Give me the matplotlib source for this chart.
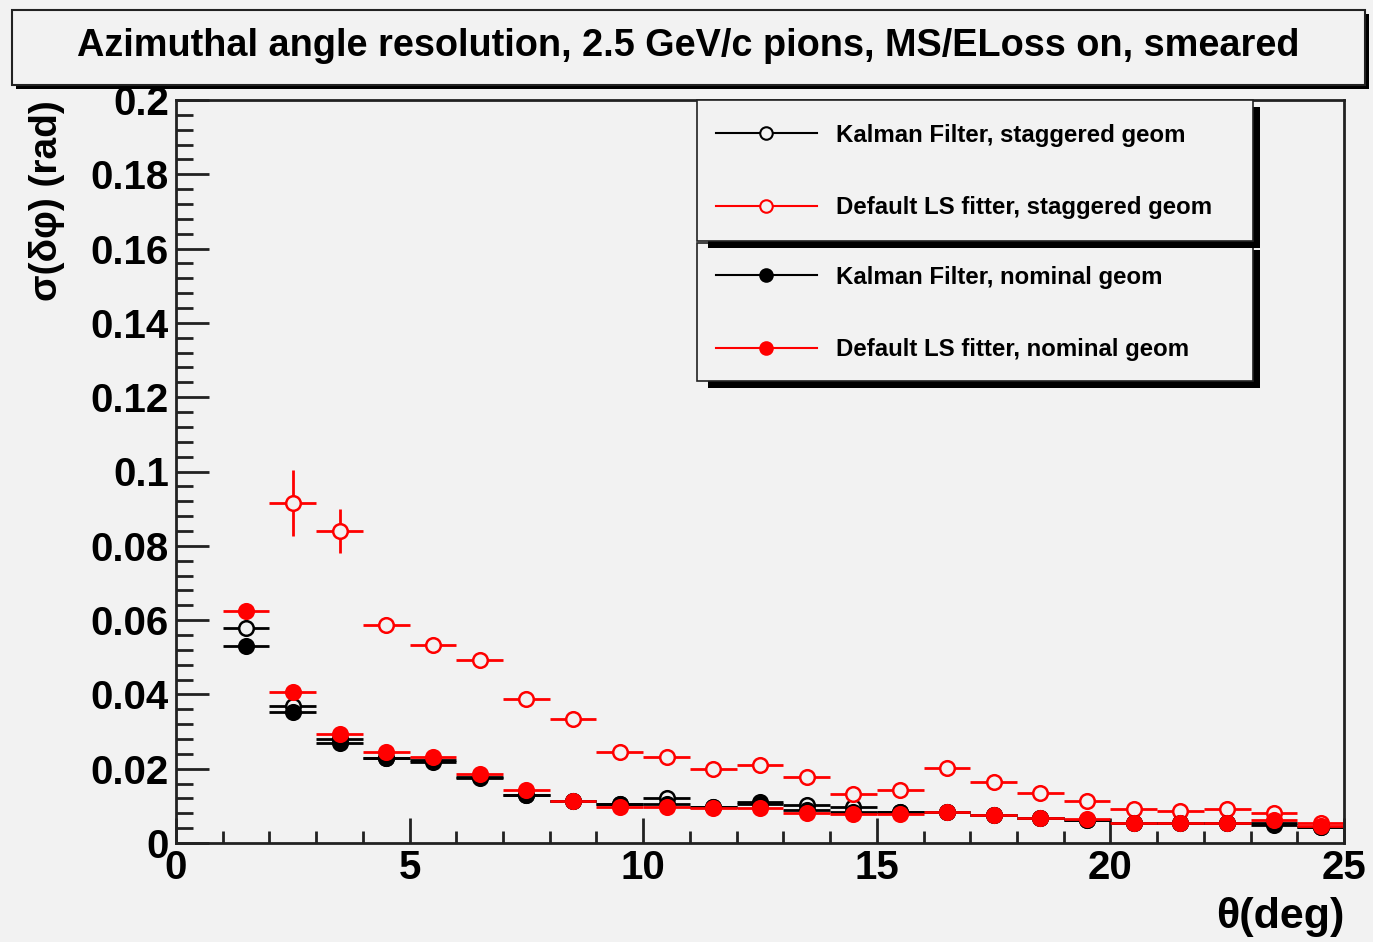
import numpy as np
import matplotlib.pyplot as plt
from matplotlib.patches import Rectangle
from matplotlib.lines import Line2D
from matplotlib.ticker import MultipleLocator

plt.rcParams['font.family'] = ['Liberation Sans', 'DejaVu Sans']
plt.rcParams['font.weight'] = 'bold'

# bin centres (deg), bin width 1
theta = np.arange(1.5, 25, 1.0)

kf_stag = [0.0579, 0.0370, 0.0280, 0.0230, 0.0218, 0.0178, 0.0130, 0.0114,
           0.0105, 0.0120, 0.0097, 0.0110, 0.0102, 0.0097, 0.0084, 0.0084,
           0.0075, 0.0066, 0.0062, 0.0053, 0.0053, 0.0053, 0.0048, 0.0042]
ls_stag = [np.nan, 0.0915, 0.0840, 0.0587, 0.0533, 0.0493, 0.0388, 0.0334,
           0.0246, 0.0232, 0.0198, 0.0210, 0.0177, 0.0131, 0.0144, 0.0203,
           0.0165, 0.0134, 0.0113, 0.0092, 0.0087, 0.0092, 0.0081, 0.0053]
kf_nom = [0.0530, 0.0353, 0.0268, 0.0230, 0.0223, 0.0174, 0.0129, 0.0114,
          0.0105, 0.0105, 0.0097, 0.0105, 0.0089, 0.0084, 0.0084, 0.0084,
          0.0075, 0.0066, 0.0062, 0.0053, 0.0053, 0.0053, 0.0053, 0.0042]
ls_nom = [0.0624, 0.0406, 0.0293, 0.0246, 0.0232, 0.0186, 0.0144, 0.0114,
          0.0097, 0.0097, 0.0093, 0.0093, 0.0080, 0.0079, 0.0079, 0.0084,
          0.0075, 0.0066, 0.0065, 0.0053, 0.0053, 0.0053, 0.0062, 0.0046]

ls_stag_err = [0, 0.0088, 0.0060, 0.0010, 0.0010, 0.0010, 0.0008, 0.0008,
               0.0006, 0.0006, 0.0006, 0.0006, 0.0005, 0.0005, 0.0005, 0.0005,
               0.0005, 0.0004, 0.0004, 0.0004, 0.0004, 0.0004, 0.0004, 0.0003]
ls_nom_err = [0.0020] + [0.0006] * 23
kf_err = [0.0010] + [0.0004] * 23

labels = ["Kalman Filter, staggered geom",
          "Default LS fitter, staggered geom",
          "Kalman Filter, nominal geom",
          "Default LS fitter, nominal geom"]

bg = '#f2f2f2'
W, H = 1373, 942
fig = plt.figure(figsize=(W / 100, H / 100), dpi=100, facecolor=bg)
ax = fig.add_axes([176 / W, 1 - 843 / H, (1344 - 176) / W, (843 - 100) / H])
ax.set_facecolor(bg)

series = [
    (kf_stag, kf_err, 'black', bg),
    (ls_stag, ls_stag_err, 'red', bg),
    (kf_nom, kf_err, 'black', 'black'),
    (ls_nom, ls_nom_err, 'red', 'red'),
]
for vals, err, col, fc in series:
    ax.errorbar(theta, vals, xerr=0.5, yerr=err, fmt='o', color=col,
                mec=col, mfc=fc, ms=10.5, mew=1.8, elinewidth=2, capsize=0)

ax.set_xlim(0, 25)
ax.set_ylim(0, 0.2)
ax.xaxis.set_major_locator(MultipleLocator(5))
ax.xaxis.set_minor_locator(MultipleLocator(1))
ax.yaxis.set_minor_locator(MultipleLocator(0.004))
ax.set_yticks(np.arange(0, 0.201, 0.02))
ax.set_yticklabels(['0', '0.02', '0.04', '0.06', '0.08', '0.1', '0.12',
                    '0.14', '0.16', '0.18', '0.2'])
ax.tick_params(which='both', direction='in', top=False, right=False,
               width=2, color='#222222', labelsize=29)
ax.tick_params(which='major', axis='y', length=24, pad=5)
ax.tick_params(which='minor', axis='y', length=12)
ax.tick_params(which='major', axis='x', length=18, pad=4)
ax.tick_params(which='minor', axis='x', length=9)
for s in ax.spines.values():
    s.set_linewidth(2)
    s.set_color('#222222')

fig.text(1345 / W, 1 - 917 / H, 'θ(deg)', ha='right', va='center', fontsize=31)
fig.text(47 / W, 1 - 100 / H, 'σ(δφ) (rad)', ha='center', va='top',
         rotation=90, fontsize=28)

# title box with shadow
fig.add_artist(Rectangle((16 / W, 1 - 89 / H), (1365 - 12) / W, 75 / H,
                         transform=fig.transFigure, fc='black', ec='none', zorder=1))
fig.add_artist(Rectangle((12 / W, 1 - 85 / H), (1365 - 12) / W, 75 / H,
                         transform=fig.transFigure, fc=bg, ec='#222222', lw=1.5, zorder=2))
fig.text((12 + 1365) / 2 / W, 1 - 46 / H,
         'Azimuthal angle resolution, 2.5 GeV/c pions, MS/ELoss on, smeared',
         ha='center', va='center', fontsize=27.3, zorder=3)

# legend boxes with shadows (lower box first, upper box's shadow lies over it)
z = 4
for top, bot in [(243, 381), (100, 241)]:
    fig.add_artist(Rectangle((708 / W, 1 - (bot + 7) / H), (1260 - 708) / W, (bot - top) / H,
                             transform=fig.transFigure, fc='black', ec='none', zorder=z))
    fig.add_artist(Rectangle((697 / W, 1 - bot / H), (1253 - 697) / W, (bot - top) / H,
                             transform=fig.transFigure, fc=bg, ec='#222222', lw=1.2, zorder=z + 1))
    z += 2

handles = []
for vals, err, col, fc in series:
    handles.append(Line2D([], [], color=col, lw=1.5, marker='o', ms=9,
                          mec=col, mfc=fc, mew=1.5))

for i, yc in enumerate([171.5, 313.5]):
    leg = fig.legend(handles[2 * i:2 * i + 2], labels[2 * i:2 * i + 2],
                     loc='center left', bbox_to_anchor=(716 / W, 1 - yc / H),
                     frameon=False, fontsize=17.3, handlelength=4.2,
                     handletextpad=0.8, labelspacing=2.07, borderpad=0,
                     borderaxespad=0)
    leg.set_zorder(10)

fig.savefig('out.png', dpi=100, facecolor=bg)
